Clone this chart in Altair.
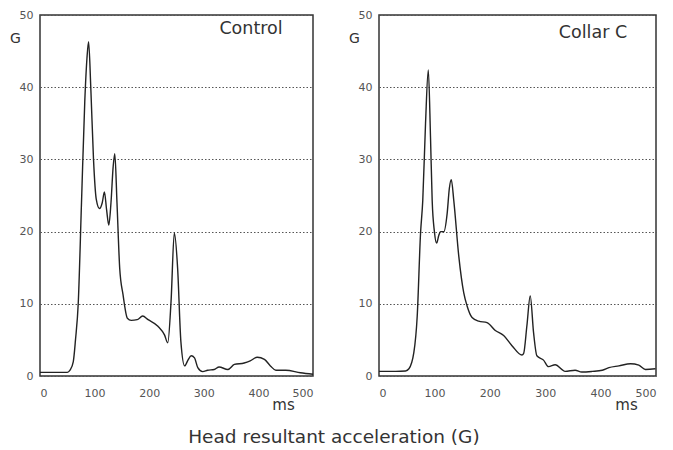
import altair as alt
import pandas as pd

# ---- data ----
control_ms = [0, 20, 50, 55, 61, 65, 70, 76, 82, 86, 89, 93, 98, 103, 109, 114, 118, 122, 126, 130,
              134, 137, 141, 146, 152, 160, 167, 178, 188, 198, 216, 228, 234, 240, 246, 252, 258,
              265, 271, 277, 283, 289, 298, 307, 319, 328, 344, 356, 374, 385, 398, 411, 422, 432,
              450, 477, 500]
control_g = [0.5, 0.5, 0.5, 0.8, 2.0, 5.0, 10.0, 24.0, 38.0, 44.0, 46.3, 40.0, 30.0, 24.5, 23.2, 24.0,
             25.5, 23.0, 20.9, 24.0, 29.0, 30.8, 24.0, 14.9, 11.3, 8.0, 7.7, 7.8, 8.3, 7.8, 6.9, 5.7,
             4.6, 10.3, 19.8, 15.0, 4.8, 1.4, 2.2, 2.8, 2.5, 1.15, 0.6, 0.8, 0.9, 1.25, 0.9, 1.6, 1.8,
             2.1, 2.6, 2.3, 1.4, 0.8, 0.8, 0.45, 0.25]

collar_ms = [0, 30, 48, 54, 63, 69, 75, 79, 84, 89, 93, 96, 100, 104, 108, 111, 117, 123, 127, 130.5,
             135, 144, 153, 159, 168, 180, 195, 210, 225, 240, 258, 261, 267, 273, 279, 285, 297, 306,
             318, 336, 354, 366, 385, 403, 415, 433, 454, 469, 481, 499]
collar_g = [0.64, 0.64, 0.7, 1.0, 3.3, 8.3, 19.8, 24.3, 35.0, 42.4, 33.0, 24.3, 20.0, 18.4, 19.5, 20.0,
            20.0, 22.5, 26.0, 27.2, 24.3, 16.6, 11.5, 9.7, 8.1, 7.6, 7.4, 6.3, 5.6, 4.2, 2.9, 3.1, 7.0,
            11.1, 6.0, 2.8, 2.2, 1.3, 1.55, 0.64, 0.8, 0.55, 0.64, 0.8, 1.15, 1.4, 1.7, 1.5, 0.9, 1.0]

x_ticks = [0, 100, 200, 300, 400, 500]
y_ticks = [0, 10, 20, 30, 40, 50]
panel_labels = ["Control", "Collar C"]
bottom_title = "Head resultant acceleration (G)"

FONT = "DejaVu Sans"


def panel(ms, g, label, lx, ly, w):
    df = pd.DataFrame({"ms": ms, "G": g})
    x = alt.X("ms:Q", scale=alt.Scale(domain=[0, 500], nice=False),
              axis=alt.Axis(values=x_ticks, title="ms", titleX=w - 30, titleY=28,
                            titleAlign="center", titleBaseline="middle",
                            titleFontSize=15, titleFontWeight="normal", titleColor="#333",
                            grid=False, domain=False, ticks=False, labelPadding=11))
    y = alt.Y("G:Q", scale=alt.Scale(domain=[0, 50], nice=False),
              axis=alt.Axis(values=y_ticks, title="G", titleAngle=0, titleX=-25, titleY=23,
                            titleAlign="center", titleBaseline="middle",
                            titleFontSize=14, titleFontWeight="normal", titleColor="#333",
                            grid=True, gridDash=[1.5, 2], gridColor="#555", gridWidth=1,
                            domain=False, ticks=False, labelPadding=7))
    line = alt.Chart(df).mark_line(color="#222", strokeWidth=1.4,
                                   interpolate="monotone").encode(x=x, y=y)
    txt = alt.Chart(pd.DataFrame({"t": [label]})).mark_text(
        font=FONT, fontSize=17.5, color="#333", align="center", baseline="middle"
    ).encode(x=alt.value(lx), y=alt.value(ly), text="t:N")
    return alt.layer(line, txt).properties(width=w, height=361)


left = panel(control_ms, control_g, panel_labels[0], 211, 14, 273)
right = panel(collar_ms, collar_g, panel_labels[1], 214, 18, 277)

chart = alt.hconcat(left, right, spacing=30).properties(
    title=alt.TitleParams(bottom_title, orient="bottom", anchor="middle", fontSize=18.5,
                          font=FONT, fontWeight="normal", color="#333", offset=15),
    padding={"left": 0, "top": 0, "right": 0, "bottom": 0},
    background="white",
).configure_view(
    stroke="#333", strokeWidth=1.5
).configure_axis(
    labelFont=FONT, labelFontSize=11, labelColor="#555", titleFont=FONT
)

chart.save("out.html", embed_options={"renderer": "svg", "actions": False})
